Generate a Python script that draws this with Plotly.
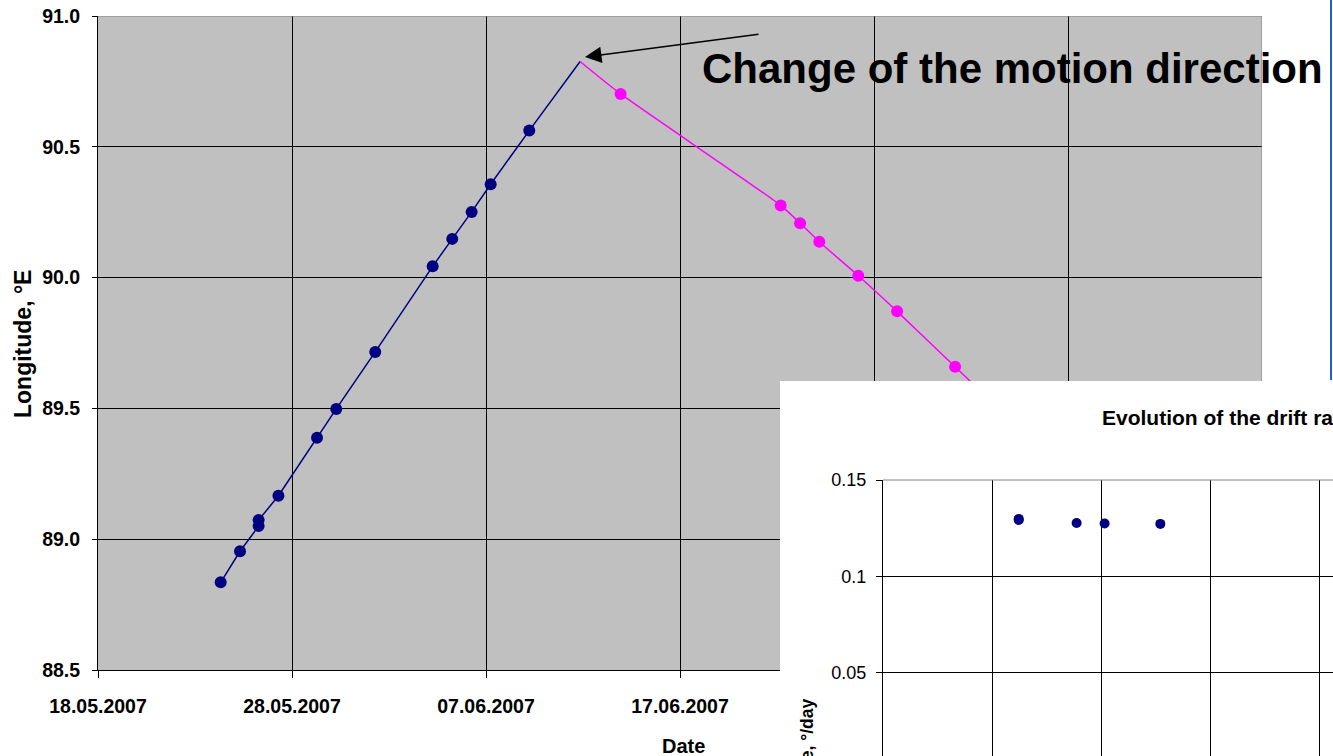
import plotly.graph_objects as go

W, H = 1333, 756

# ---------------- data ----------------
blue_dates = [
    "2007-05-24 07:48", "2007-05-25 07:41", "2007-05-26 06:43", "2007-05-26 06:43",
    "2007-05-27 07:12", "2007-05-29 06:58", "2007-05-30 06:43", "2007-06-01 06:58",
    "2007-06-04 06:00", "2007-06-05 06:14", "2007-06-06 06:14", "2007-06-07 05:46",
    "2007-06-09 05:31",
]
blue_lon = [88.835, 88.954, 89.050, 89.073, 89.166, 89.388, 89.498, 89.716,
            90.043, 90.148, 90.251, 90.357, 90.562]

apex_date = "2007-06-11 20:24"
apex_lon = 90.826

magenta_dates = [
    "2007-06-13 22:34", "2007-06-22 04:34", "2007-06-23 04:34", "2007-06-24 04:19",
    "2007-06-26 04:34", "2007-06-28 04:34", "2007-07-01 04:19",
]
magenta_lon = [90.702, 90.276, 90.208, 90.137, 90.007, 89.871, 89.659]
magenta_tail_date = "2007-07-03 00:00"
magenta_tail_lon = 89.53

inset_x = [1.245, 1.245, 1.776, 2.033, 2.544]
inset_rate = [0.1298, 0.1292, 0.1277, 0.1274, 0.1272]

x_range = ["2007-05-18", "2007-07-17"]
y_range = [88.5, 91.0]
inset_x_range = [0, 4.128]
inset_y_range = [0.0067, 0.15]

title_main = "Change of the motion direction"
title_inset = "Evolution of the drift rate"
xlabel = "Date"
ylabel = "Longitude, °E"
inset_ylabel = "Drift rate, °/day"

FONT = "Liberation Sans, Arial, sans-serif"
NAVY = "#000080"
MAGENTA = "#FF00FF"


def px(x):
    return x / W


def py(y):
    return 1 - y / H


fig = go.Figure()

# main chart
fig.add_trace(go.Scatter(
    x=blue_dates + [apex_date], y=blue_lon + [apex_lon], mode="lines",
    line=dict(color=NAVY, width=1.5), showlegend=False, hoverinfo="skip",
    xaxis="x", yaxis="y"))
fig.add_trace(go.Scatter(
    x=[apex_date] + magenta_dates + [magenta_tail_date],
    y=[apex_lon] + magenta_lon + [magenta_tail_lon], mode="lines",
    line=dict(color=MAGENTA, width=1.5, shape="spline", smoothing=0.6),
    showlegend=False, hoverinfo="skip", xaxis="x", yaxis="y"))
fig.add_trace(go.Scatter(
    x=blue_dates, y=blue_lon, mode="markers",
    marker=dict(color=NAVY, size=12), showlegend=False, xaxis="x", yaxis="y"))
fig.add_trace(go.Scatter(
    x=magenta_dates, y=magenta_lon, mode="markers",
    marker=dict(color=MAGENTA, size=12), showlegend=False, xaxis="x", yaxis="y"))

# white box behind the inset (an empty subplot whose background hides the main chart)
fig.add_trace(go.Scatter(x=[None], y=[None], xaxis="x2", yaxis="y2",
                         showlegend=False, hoverinfo="skip"))

# inset chart
fig.add_trace(go.Scatter(
    x=inset_x, y=inset_rate, mode="markers",
    marker=dict(color=NAVY, size=10), showlegend=False, xaxis="x3", yaxis="y3"))

bold_tick = dict(family=FONT, size=19.5, color="black", weight="bold")

fig.update_layout(
    width=W, height=H,
    margin=dict(l=0, r=0, t=0, b=0, autoexpand=False),
    paper_bgcolor="white", plot_bgcolor="white",
    font=dict(family=FONT, color="black"),
    xaxis=dict(
        type="date", range=x_range, domain=[px(98), px(1262)], anchor="y",
        tickmode="linear", tick0=x_range[0], dtick=864000000,
        tickformat="%d.%m.%Y", showgrid=True, gridcolor="black", gridwidth=1,
        showline=True, linecolor="black", linewidth=1, mirror=False,
        ticks="outside", ticklen=7, tickcolor="black", tickfont=bold_tick,
        ticklabelstandoff=12, zeroline=False),
    yaxis=dict(
        range=y_range, domain=[1 - 670 / H, 1 - 16 / H], anchor="x",
        tickmode="linear", tick0=88.5, dtick=0.5, tickformat=".1f",
        showgrid=True, gridcolor="black", gridwidth=1,
        showline=True, linecolor="black", linewidth=1,
        ticks="outside", ticklen=5, tickcolor="black", tickfont=bold_tick,
        ticklabelstandoff=8, zeroline=False),
    xaxis2=dict(domain=[px(780), 1], range=[0, 1], anchor="y2", visible=False),
    yaxis2=dict(domain=[0, 1 - 381 / H], range=[0, 1], anchor="x2", visible=False),
    xaxis3=dict(
        domain=[px(883), 1], range=inset_x_range, anchor="y3",
        tickmode="linear", tick0=0, dtick=1, showgrid=True, gridcolor="black",
        gridwidth=1, showticklabels=False, showline=False, zeroline=False),
    yaxis3=dict(
        domain=[0, 1 - 480 / H], range=inset_y_range, anchor="x3",
        tickmode="linear", tick0=0, dtick=0.05, showgrid=True, gridcolor="black",
        gridwidth=1, showline=True, linecolor="black", linewidth=1,
        ticks="outside", ticklen=6, tickcolor="black",
        tickfont=dict(family=FONT, size=18, color="black"),
        ticklabelstandoff=6, zeroline=False),
)

fig.update_layout(shapes=[
    # grey plot area of the main chart
    dict(type="rect", xref="paper", yref="paper", layer="below",
         x0=px(98), x1=px(1262), y0=py(670), y1=py(16),
         fillcolor="#C0C0C0", line=dict(width=0)),
    # grey top / right borders of the main plot area
    dict(type="line", xref="x", yref="y", layer="between",
         x0=x_range[0], x1=x_range[1], y0=y_range[1], y1=y_range[1],
         line=dict(color="#808080", width=1)),
    dict(type="line", xref="x", yref="y", layer="between",
         x0=x_range[1], x1=x_range[1], y0=y_range[0], y1=y_range[1],
         line=dict(color="#808080", width=1)),
    # grey top border of the inset plot area
    dict(type="line", xref="paper", yref="paper", layer="above",
         x0=px(883), x1=1, y0=py(480), y1=py(480),
         line=dict(color="#808080", width=1)),
    # blue frame edge at the right
    dict(type="line", xref="paper", yref="paper", layer="above",
         x0=px(1331), x1=px(1331), y0=py(0), y1=py(380),
         line=dict(color="#1F63C6", width=2)),
])

fig.update_layout(annotations=[
    dict(text=title_main, xref="paper", yref="paper", x=px(700), y=py(68.5),
         xanchor="left", yanchor="middle", showarrow=False,
         font=dict(family=FONT, size=42, color="black", weight="bold")),
    dict(text="", xref="paper", yref="paper", x=px(585), y=py(57),
         ax=175, ay=-23, showarrow=True, arrowhead=2, arrowsize=2.2,
         arrowwidth=1.5, arrowcolor="black"),
    dict(text=xlabel, xref="paper", yref="paper", x=px(683), y=py(746),
         xanchor="center", yanchor="middle", showarrow=False,
         font=dict(family=FONT, size=20, color="black", weight="bold")),
    dict(text=ylabel, xref="paper", yref="paper", x=px(23), y=py(344),
         xanchor="center", yanchor="middle", showarrow=False, textangle=-90,
         font=dict(family=FONT, size=23, color="black", weight="bold")),
    dict(text=title_inset, xref="paper", yref="paper", x=px(1100), y=py(417),
         xanchor="left", yanchor="middle", showarrow=False,
         font=dict(family=FONT, size=21, color="black", weight="bold")),
    dict(text=inset_ylabel, xref="paper", yref="paper", x=px(806), y=py(697),
         xanchor="center", yanchor="top", showarrow=False, textangle=-90,
         font=dict(family=FONT, size=17.5, color="black", weight="bold")),
])

fig.write_html("out.html")
